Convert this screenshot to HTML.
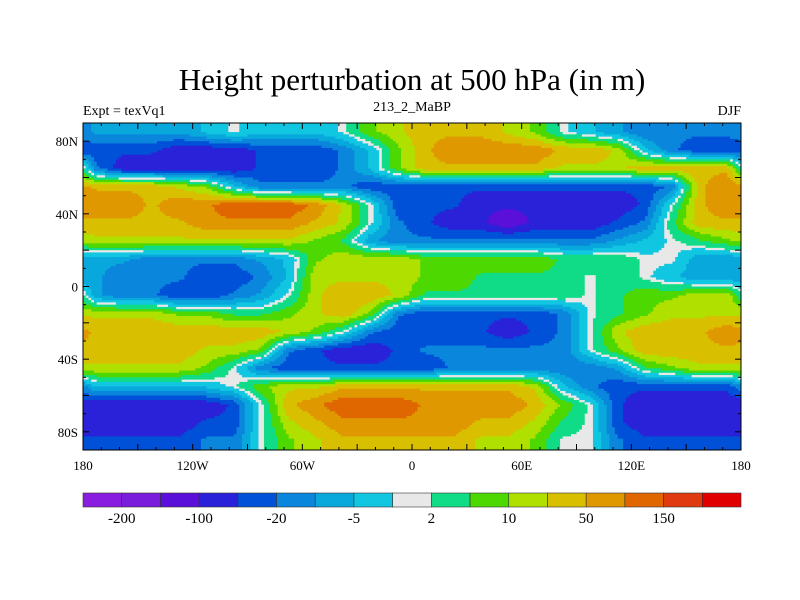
<!DOCTYPE html>
<html><head><meta charset="utf-8"><style>
body{margin:0;background:#fff;}
svg{display:block;font-family:"Liberation Serif",serif;}
</style></head><body>
<svg id="chart" width="800" height="600" viewBox="0 0 800 600">
<text x="412" y="90" font-size="31" text-anchor="middle">Height perturbation at 500 hPa (in m)</text>
<text x="83" y="115" font-size="14">Expt = texVq1</text>
<text x="412" y="111" font-size="14" text-anchor="middle">213_2_MaBP</text>
<text x="741" y="115" font-size="14" text-anchor="end">DJF</text>
<g id="field"></g>
<rect x="83" y="123" width="658" height="327" fill="none" stroke="#000" stroke-width="1"/>
<g id="axes"></g>
<g id="cbar"></g>
</svg>
<script>
// color levels (index 0..16)
const levelColors=["#8a1ee0","#7a1edc","#5a10d8","#2a22d8","#0050d8","#0a86dc","#08a8dc","#10c6e0","#e8e8e8","#10dc88","#4cd800","#b0e000","#d8c000","#e09800","#e06600","#e03a10","#e00000"];
const colorbarLabels=["-200","-100","-20","-5","2","10","50","150"];
const colorbarLabelBoundaries=[1,3,5,7,9,11,13,15];
const latTicks=[80,40,0,-40,-80];
const latLabels=["80N","40N","0","40S","80S"];
const lonTicks=[-180,-120,-60,0,60,120,180];
const lonLabels=["180","120W","60W","0","60E","120E","180"];
// level index per 15° lon x 10° lat cell, rows from 90N to 90S, cols from 180W eastward
const row0=[6,6,6,6,7,8,7,7,7,8,10,11,12,12,12,11,10,8,7,6,5,5,5,5];
const row1=[4,4,4,3,3,3,4,4,4,5,7,10,12,13,13,13,13,12,12,11,7,5,4,4];
const row2=[5,3,3,3,3,3,4,4,4,5,7,10,12,12,12,12,12,11,11,11,12,12,12,12];
const row3=[12,12,12,11,10,7,5,5,5,5,4,4,4,4,4,4,4,4,4,4,4,5,12,13];
const row4=[13,13,12,13,13,14,14,14,13,11,8,4,4,4,3,3,3,3,3,3,4,8,12,13];
const row5=[12,12,12,12,13,13,13,13,12,11,8,5,4,3,3,2,3,3,3,4,5,9,12,12];
const row6=[11,11,11,11,11,11,11,11,10,9,6,5,5,5,5,5,5,5,5,6,7,8,9,10];
const row7=[6,6,5,5,5,5,6,7,10,11,11,11,10,10,10,10,10,9,9,9,8,8,6,6];
const row8=[6,5,5,5,4,4,5,7,11,11,11,11,10,10,9,9,9,9,8,9,8,7,6,6];
const row9=[6,5,5,4,4,5,6,8,11,12,12,11,9,9,9,9,9,9,8,9,10,10,11,11];
const row10=[11,11,11,10,10,9,9,10,11,12,10,5,4,4,4,4,4,5,8,9,10,11,11,11];
const row11=[12,12,12,12,12,12,12,11,10,8,5,4,4,4,4,3,4,5,8,11,12,12,12,13];
const row12=[12,12,12,12,11,11,10,5,4,3,3,4,5,5,5,5,5,5,8,10,12,12,12,12];
const row13=[11,11,11,11,10,8,5,4,4,4,4,4,4,5,5,5,5,5,5,6,9,10,11,11];
const row14=[7,7,7,7,7,8,10,11,11,12,12,12,12,12,12,12,11,7,5,4,4,4,4,4];
const row15=[3,3,3,3,3,4,8,12,13,14,14,14,13,13,13,13,12,10,8,4,3,3,3,3];
const row16=[3,3,3,3,4,4,8,11,12,13,13,13,13,13,12,12,11,9,8,4,3,3,3,3];
const row17=[4,4,4,4,5,5,8,10,11,12,12,12,12,12,11,11,10,8,8,5,4,4,4,4];
const grid=[row0,row1,row2,row3,row4,row5,row6,row7,row8,row9,row10,row11,row12,row13,row14,row15,row16,row17];

const X0=83,X1=741,Y0=123,Y1=450;
const xOf=lon=>X0+(lon+180)/360*(X1-X0);
const yOf=lat=>Y0+(90-lat)/180*(Y1-Y0);
const NS="http://www.w3.org/2000/svg";
function mk(tag,attrs,parent){const e=document.createElementNS(NS,tag);for(const k in attrs)e.setAttribute(k,attrs[k]);parent.appendChild(e);return e;}

const nR=grid.length,nC=grid[0].length;
function sample(lon,lat){
  let c=(lon+180)/15-0.5, r=(90-lat)/10-0.5;
  r=Math.max(0,Math.min(nR-1,r));
  const r0=Math.floor(r),r1=Math.min(nR-1,r0+1),fr=r-r0;
  const c0=Math.floor(c),fc=c-c0;
  const ca=((c0%nC)+nC)%nC, cb=(ca+1)%nC;
  const a=grid[r0][ca]*(1-fc)+grid[r0][cb]*fc;
  const b=grid[r1][ca]*(1-fc)+grid[r1][cb]*fc;
  return a*(1-fr)+b*fr;
}
function levelOf(v){
  if(Math.abs(v-8)<0.22) return 8;
  if(v<8) return Math.max(0,Math.min(7,Math.round(v-0.28)));
  return Math.min(16,Math.max(9,Math.round(v+0.28)));
}
const field=document.getElementById('field');
const SX=1.5,SY=1.25;
for(let lat=90;lat>-90+1e-6;lat-=SY){
  let runStart=-180,runLev=null;
  for(let lon=-180;lon<=180+1e-6;lon+=SX){
    const lev=lon<180-1e-6?levelOf(sample(lon+SX/2,lat-SY/2)):-1;
    if(runLev===null){runLev=lev;runStart=lon;continue;}
    if(lev!==runLev){
      const r=mk('rect',{x:xOf(runStart).toFixed(2),y:yOf(lat).toFixed(2),width:(Math.min(X1,xOf(lon)+0.5)-xOf(runStart)).toFixed(2),height:(yOf(lat-SY)-yOf(lat)+0.5).toFixed(2),fill:levelColors[runLev]},field);
      
      
      runLev=lev;runStart=lon;
    }
  }
}

// axes
const axes=document.getElementById('axes');
latTicks.forEach((lat,i)=>{
  const t=mk('text',{x:X0-5,y:yOf(lat)+5,'font-size':13,'text-anchor':'end'},axes);
  t.textContent=latLabels[i];
  
  
});
lonTicks.forEach((lon,i)=>{
  const t=mk('text',{x:xOf(lon),y:470,'font-size':13,'text-anchor':'middle'},axes);
  t.textContent=lonLabels[i];
  
  
});
for(let lon=-180;lon<=180;lon+=10){
  const L=lon%30===0?6:3;
  mk('line',{x1:xOf(lon),x2:xOf(lon),y1:Y1,y2:Y1-L,stroke:'#000'},axes);
  mk('line',{x1:xOf(lon),x2:xOf(lon),y1:Y0,y2:Y0+L,stroke:'#000'},axes);
}
for(let lat=-90;lat<=90;lat+=10){
  const L=lat%20===0?6:3;
  mk('line',{x1:X0,x2:X0+L,y1:yOf(lat),y2:yOf(lat),stroke:'#000'},axes);
  mk('line',{x1:X1,x2:X1-L,y1:yOf(lat),y2:yOf(lat),stroke:'#000'},axes);
}

// colorbar
const cbar=document.getElementById('cbar');
const CB0=83,CB1=741,CBY=493,CBH=14,bw=(CB1-CB0)/levelColors.length;
levelColors.forEach((c,i)=>{
  const r=mk('rect',{x:CB0+i*bw,y:CBY,width:bw,height:CBH,fill:c,stroke:'#333','stroke-width':0.6},cbar);
  
  
});
colorbarLabels.forEach((s,i)=>{
  const t=mk('text',{x:CB0+colorbarLabelBoundaries[i]*bw,y:CBY+CBH+16,'font-size':15,'text-anchor':'middle'},cbar);
  t.textContent=s;
  
  
});
</script>
</body></html>
